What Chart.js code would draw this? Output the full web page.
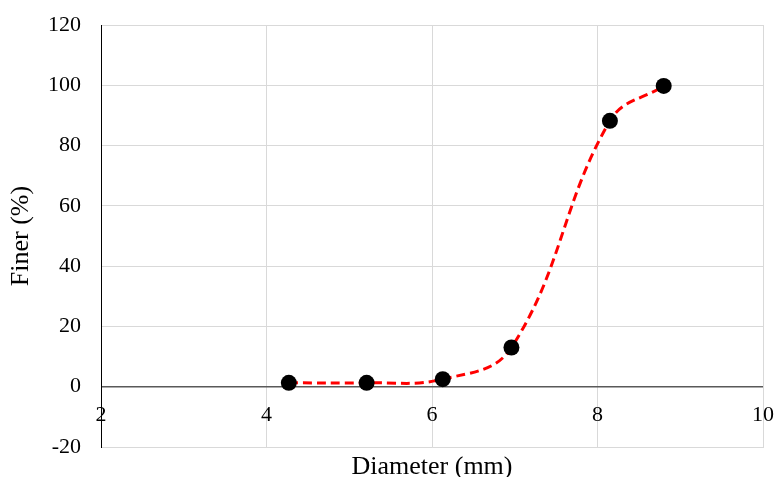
<!DOCTYPE html>
<html>
<head>
<meta charset="utf-8">
<script src="https://cdn.jsdelivr.net/npm/chart.js@4.4.1/dist/chart.umd.min.js"></script>
<style>
  html, body { margin: 0; padding: 0; background: #fff; overflow: hidden; }
  #wrap { width: 775px; height: 490px; position: relative; }
</style>
</head>
<body>
<div id="wrap"><canvas id="chart"></canvas></div>
<script>
// data
const diameter = [4.27, 5.21, 6.13, 6.96, 8.15, 8.8];
const finer = [1.3, 1.3, 2.5, 13, 88.2, 99.8];
const xTicks = [2, 4, 6, 8, 10];
const yTicks = [-20, 0, 20, 40, 60, 80, 100, 120];

const serif = "'Liberation Serif', 'Times New Roman', serif";
const gridGray = '#d9d9d9';

const points = diameter.map((d, i) => ({ x: d, y: finer[i] }));

// let layout.padding alone decide the plot area edges
function noOverflow(s) {
    s.paddingTop = 0;
    s.paddingBottom = 0;
    s.paddingLeft = 0;
    s.paddingRight = 0;
}

const ctx = document.getElementById('chart').getContext('2d');
new Chart(ctx, {
    type: 'scatter',
    data: {
        datasets: [{
            data: points,
            showLine: true,
            tension: 0.4,
            borderColor: '#ff0000',
            borderWidth: 3,
            borderDash: [9, 5],
            pointRadius: 8,
            pointHoverRadius: 8,
            pointBackgroundColor: '#000',
            pointBorderWidth: 0,
            xAxisID: 'x',
            yAxisID: 'y'
        }]
    },
    options: {
        responsive: true,
        maintainAspectRatio: false,
        animation: false,
        layout: { padding: { left: 6, top: 25, right: 12, bottom: 0 } },
        plugins: {
            legend: { display: false },
            tooltip: { enabled: false }
        },
        scales: {
            x: {
                type: 'linear',
                position: 'bottom',
                min: xTicks[0],
                max: xTicks[xTicks.length - 1],
                ticks: { display: false, stepSize: xTicks[1] - xTicks[0] },
                grid: { color: gridGray, drawTicks: false },
                border: { color: gridGray },
                title: {
                    display: true,
                    text: 'Diameter (mm)',
                    color: '#000',
                    font: { family: serif, size: 26 },
                    padding: { top: 0, bottom: 7 }
                },
                afterFit: s => { s.height = 43; noOverflow(s); }
            },
            // labels of the x axis sit on the zero line
            x2: {
                type: 'linear',
                axis: 'x',
                position: { y: 0 },
                min: xTicks[0],
                max: xTicks[xTicks.length - 1],
                ticks: {
                    stepSize: xTicks[1] - xTicks[0],
                    color: '#000',
                    padding: 15,
                    maxRotation: 0,
                    font: { family: serif, size: 22 }
                },
                grid: { display: false, drawTicks: false },
                border: { display: false },
                afterFit: noOverflow
            },
            y: {
                type: 'linear',
                min: yTicks[0],
                max: yTicks[yTicks.length - 1],
                ticks: {
                    stepSize: yTicks[1] - yTicks[0],
                    color: '#000',
                    padding: 20,
                    font: { family: serif, size: 22 }
                },
                grid: {
                    drawTicks: false,
                    color: c => (c.tick && c.tick.value === 0 ? '#595959' : gridGray),
                    lineWidth: c => (c.tick && c.tick.value === 0 ? 1.5 : 1)
                },
                border: { color: '#000', width: 1 },
                title: {
                    display: true,
                    text: 'Finer (%)',
                    color: '#000',
                    font: { family: serif, size: 26 },
                    padding: { top: 0, bottom: 0 }
                },
                afterFit: s => { s.width = 95; noOverflow(s); }
            }
        }
    }
});
</script>
</body>
</html>
